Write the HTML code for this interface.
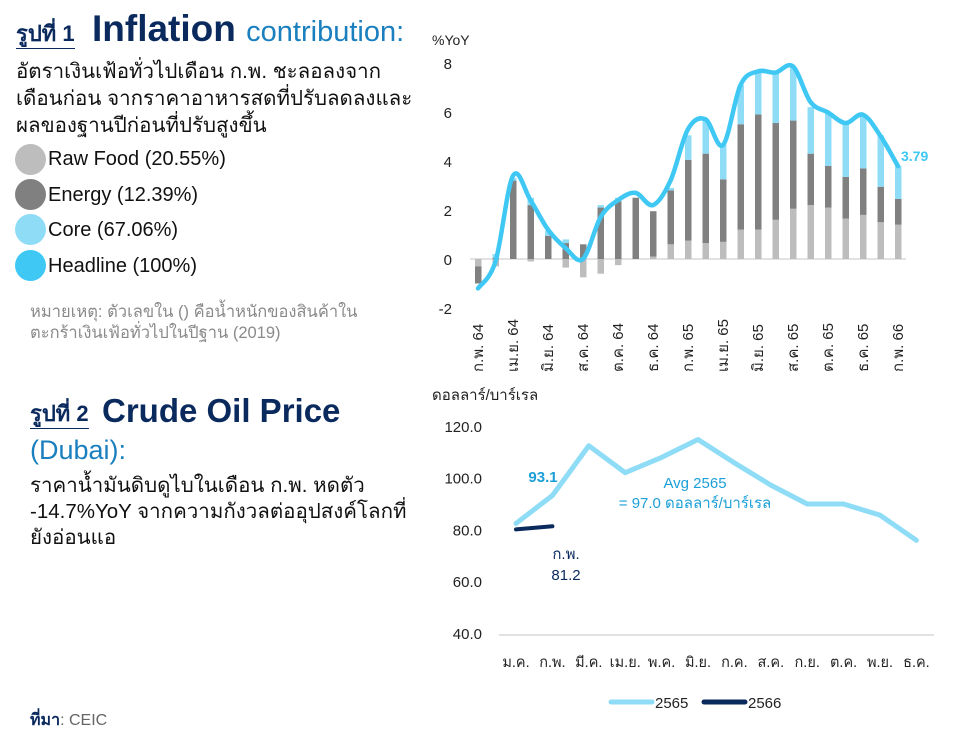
<!DOCTYPE html>
<html><head><meta charset="utf-8">
<style>
body{margin:0;width:964px;height:744px;background:#fff;overflow:hidden;position:relative;font-family:"Liberation Sans","DejaVu Sans",sans-serif;}
.a{position:absolute;white-space:nowrap;}
.dot{position:absolute;left:15px;width:31px;height:31px;border-radius:50%;}
.lg{left:48px;font-size:20px;color:#111;}
</style></head><body>
<div class="a" style="left:16px;top:20px;font-size:22px;font-weight:bold;color:#0a2a5e;border-bottom:1.5px solid #0a2a5e;line-height:28px;">รูปที่ 1</div>
<div class="a" style="left:92px;top:8px;font-size:37px;font-weight:bold;color:#0a2a5e;">Inflation <span style="font-size:29px;font-weight:normal;color:#1a7fbf;">contribution:</span></div>
<div class="a" style="left:16px;top:58px;font-size:20.5px;line-height:27px;color:#111;">อัตราเงินเฟ้อทั่วไปเดือน ก.พ. ชะลอลงจาก<br>เดือนก่อน จากราคาอาหารสดที่ปรับลดลงและ<br>ผลของฐานปีก่อนที่ปรับสูงขึ้น</div>
<div class="dot" style="top:144px;background:#bdbdbd"></div>
<div class="a lg" style="top:148px">Raw Food (20.55%)</div>
<div class="dot" style="top:179px;background:#808080"></div>
<div class="a lg" style="top:184px">Energy (12.39%)</div>
<div class="dot" style="top:214px;background:#8fdcf7"></div>
<div class="a lg" style="top:219px">Core (67.06%)</div>
<div class="dot" style="top:250px;background:#3fc8f4"></div>
<div class="a lg" style="top:255px">Headline (100%)</div>
<div class="a" style="left:30px;top:302px;font-size:16.5px;line-height:21px;color:#8a8a8a;">หมายเหตุ: ตัวเลขใน () คือน้ำหนักของสินค้าใน<br>ตะกร้าเงินเฟ้อทั่วไปในปีฐาน (2019)</div>

<div class="a" style="left:30px;top:400px;font-size:22px;font-weight:bold;color:#0a2a5e;border-bottom:1.5px solid #0a2a5e;line-height:28px;">รูปที่ 2</div>
<div class="a" style="left:102px;top:392px;font-size:33px;font-weight:bold;color:#0a2a5e;">Crude Oil Price</div>
<div class="a" style="left:30px;top:435px;font-size:27px;color:#1a7fbf;">(Dubai):</div>
<div class="a" style="left:30px;top:473px;font-size:20.5px;line-height:26px;color:#111;">ราคาน้ำมันดิบดูไบในเดือน ก.พ. หดตัว<br>-14.7%YoY จากความกังวลต่ออุปสงค์โลกที่<br>ยังอ่อนแอ</div>
<div class="a" style="left:30px;top:708px;font-size:16px;color:#666;"><b style="color:#0a2a5e">ที่มา</b>: CEIC</div>

<svg id="c1" width="964" height="744" style="position:absolute;left:0;top:0"></svg>
<script>
const months1=["ก.พ. 64","มี.ค. 64","เม.ย. 64","พ.ค. 64","มิ.ย. 64","ก.ค. 64","ส.ค. 64","ก.ย. 64","ต.ค. 64","พ.ย. 64","ธ.ค. 64","ม.ค. 65","ก.พ. 65","มี.ค. 65","เม.ย. 65","พ.ค. 65","มิ.ย. 65","ก.ค. 65","ส.ค. 65","ก.ย. 65","ต.ค. 65","พ.ย. 65","ธ.ค. 65","ม.ค. 66","ก.พ. 66"];
const rawFood=[-0.3,-0.3,0,-0.1,0,-0.35,-0.75,-0.6,-0.25,0,0.1,0.6,0.75,0.65,0.7,1.2,1.2,1.6,2.05,2.2,2.1,1.65,1.8,1.5,1.4];
const energy=[-0.7,0.05,3.2,2.2,0.95,0.65,0.6,2.1,2.35,2.5,1.85,2.2,3.3,3.65,2.55,4.3,4.7,3.95,3.6,2.1,1.7,1.7,1.9,1.45,1.05];
const core=[0,0.15,0.1,0.3,0.2,0.15,0,0.1,0.15,0,0,0.1,1.0,1.4,1.4,1.6,1.75,2.05,2.2,1.9,2.2,2.2,2.2,2.1,1.35];
const headline=[-1.2,-0.1,3.4,2.4,1.2,0.45,0.0,1.7,2.4,2.7,2.2,3.2,5.3,5.7,4.65,7.1,7.66,7.61,7.86,6.41,5.98,5.55,5.89,5.02,3.79];
const yTicks1=[-2,0,2,4,6,8];
const months2=["ม.ค.","ก.พ.","มี.ค.","เม.ย.","พ.ค.","มิ.ย.","ก.ค.","ส.ค.","ก.ย.","ต.ค.","พ.ย.","ธ.ค."];
const oil2565=[82.3,93.1,112.3,101.9,107.8,114.7,105.7,97.1,89.8,89.8,85.5,75.8];
const oil2566=[80.0,81.2];
const yTicks2=[40,60,80,100,120];

const svg=document.getElementById('c1');const NS='http://www.w3.org/2000/svg';
function mk(t,a,txt){const e=document.createElementNS(NS,t);for(const k in a)e.setAttribute(k,a[k]);if(txt!==undefined)e.textContent=txt;svg.appendChild(e);return e;}
const x1=i=>478+i*17.5, y1=v=>259-v*24.5;
mk('line',{x1:470,x2:906,y1:y1(0),y2:y1(0),stroke:'#d9d9d9','stroke-width':1.5});
yTicks1.forEach(t=>{const e=mk('text',{x:452,y:y1(t)+6,'text-anchor':'end','font-size':15,fill:'#222'},String(t));
});
mk('text',{x:432,y:45,'font-size':14,fill:'#222'},'%YoY');
months1.forEach((m,i)=>{
 let pos=0,neg=0;
 [[rawFood[i],'#bdbdbd','raw'],[energy[i],'#808080','energy'],[core[i],'#8fdcf7','core']].forEach(([v,c,n])=>{
  let top,bot;if(v>=0){bot=pos;pos+=v;top=pos;}else{top=neg;neg+=v;bot=neg;}
  const r=mk('rect',{x:x1(i)-3,width:6.5,y:y1(top),height:Math.max(0,y1(bot)-y1(top)),fill:c});
  
 });
 if(i%2===0){const tx=x1(i)+5,ty=372;const t=mk('text',{x:tx,y:ty,'font-size':15,fill:'#222',transform:`rotate(-90 ${tx} ${ty})`},m);
 }
});
let p=headline.map((v,i)=>[x1(i),y1(v)]);
let d='M'+p[0][0]+','+p[0][1];
for(let i=0;i<p.length-1;i++){const p0=p[Math.max(0,i-1)],p1=p[i],p2=p[i+1],p3=p[Math.min(p.length-1,i+2)];
d+=` C${p1[0]+(p2[0]-p0[0])/6},${p1[1]+(p2[1]-p0[1])/6} ${p2[0]-(p3[0]-p1[0])/6},${p2[1]-(p3[1]-p1[1])/6} ${p2[0]},${p2[1]}`;}
const hl=mk('path',{d:d,fill:'none',stroke:'#3fc8f4','stroke-width':4.5,'stroke-linecap':'round'});

const last=headline.length-1;
mk('text',{x:x1(last)+3,y:y1(headline[last])-5,'font-size':14,'font-weight':'bold',fill:'#3fc8f4'},headline[last].toFixed(2));
const x2=i=>516+i*36.4, y2=v=>633-(v-40)*2.59;
mk('line',{x1:499,x2:934,y1:635,y2:635,stroke:'#d9d9d9','stroke-width':1.5});
yTicks2.forEach(t=>{const e=mk('text',{x:482,y:y2(t)+6,'text-anchor':'end','font-size':15,fill:'#222'},t.toFixed(1));
});
mk('text',{x:432,y:400,'font-size':15,fill:'#222'},'ดอลลาร์/บาร์เรล');
months2.forEach((m,i)=>{const t=mk('text',{x:x2(i),y:667,'text-anchor':'middle','font-size':14.5,fill:'#222'},m);
});
const l1=mk('polyline',{points:oil2565.map((v,i)=>x2(i)+','+y2(v)).join(' '),fill:'none',stroke:'#8fdcf7','stroke-width':5,'stroke-linejoin':'round','stroke-linecap':'round'});

const l2=mk('polyline',{points:oil2566.map((v,i)=>x2(i)+','+y2(v)).join(' '),fill:'none',stroke:'#0a2a5e','stroke-width':4,'stroke-linecap':'round'});

mk('text',{x:543,y:482,'text-anchor':'middle','font-size':15,'font-weight':'bold',fill:'#1a9fd8'},oil2565[1].toFixed(1));
mk('text',{x:566,y:559,'text-anchor':'middle','font-size':15,fill:'#0a2a5e'},'ก.พ.');
mk('text',{x:566,y:580,'text-anchor':'middle','font-size':15,fill:'#0a2a5e'},oil2566[1].toFixed(1));
mk('text',{x:695,y:488,'text-anchor':'middle','font-size':15,fill:'#1a9fd8'},'Avg 2565');
mk('text',{x:695,y:508,'text-anchor':'middle','font-size':15,fill:'#1a9fd8'},'= 97.0 ดอลลาร์/บาร์เรล');
mk('line',{x1:611,x2:652,y1:702,y2:702,stroke:'#8fdcf7','stroke-width':5,'stroke-linecap':'round'});
mk('text',{x:655,y:708,'font-size':15,fill:'#222'},'2565');
mk('line',{x1:704,x2:745,y1:702,y2:702,stroke:'#0a2a5e','stroke-width':5,'stroke-linecap':'round'});
mk('text',{x:748,y:708,'font-size':15,fill:'#222'},'2566');
</script>
</body></html>
